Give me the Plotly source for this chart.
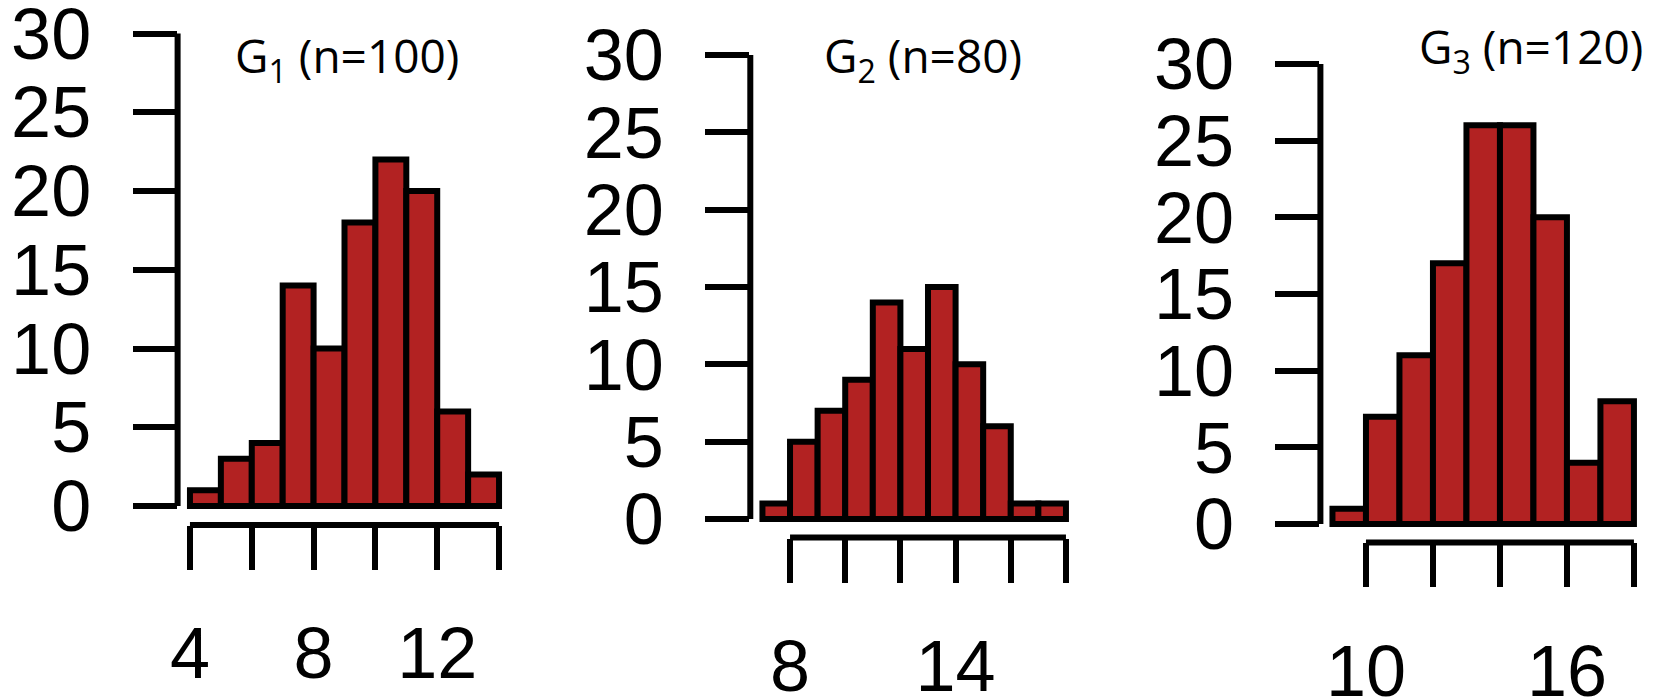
import plotly.graph_objects as go

W, H = 1669, 700

# ---- data ----
g1_left_edges = [4, 5, 6, 7, 8, 9, 10, 11, 12, 13]
g1_counts = [1, 3, 4, 14, 10, 18, 22, 20, 6, 2]

g2_left_edges = [7, 8, 9, 10, 11, 12, 13, 14, 15, 16, 17]
g2_counts = [1, 5, 7, 9, 14, 11, 15, 10, 6, 1, 1]

g3_left_edges = [9, 10, 11, 12, 13, 14, 15, 16, 17]
g3_counts = [1, 7, 11, 17, 26, 26, 20, 4, 8]

titles = ["G<sub>1</sub> (n=100)", "G<sub>2</sub> (n=80)", "G<sub>3</sub> (n=120)"]

x_tickvals = [[4, 6, 8, 10, 12, 14], [8, 10, 12, 14, 16, 18], [10, 12, 14, 16, 18]]
x_ticktext = [["4", "", "8", "", "12", ""],
              ["8", "", "", "14", "", ""],
              ["10", "", "", "16", ""]]
y_tickvals = [0, 5, 10, 15, 20, 25, 30]

panels = [
    dict(edges=g1_left_edges, counts=g1_counts, xr=[3.6, 14.4],
         px=(177.6, 511.4), py=(14.6, 524.9), title_x=347, title_y=58),
    dict(edges=g2_left_edges, counts=g2_counts, xr=[6.56, 18.44],
         px=(750.3, 1078.1), py=(36.4, 537.6), title_x=923, title_y=58),
    dict(edges=g3_left_edges, counts=g3_counts, xr=[8.64, 18.36],
         px=(1320.4, 1646.0), py=(45.6, 542.4), title_x=1531, title_y=49),
]

BAR = "#B22222"
LW = 6
TICKFONT = dict(family="Liberation Sans, Arial, Helvetica, sans-serif", size=72, color="black")

fig = go.Figure()
layout = dict(width=W, height=H, margin=dict(l=0, r=0, t=0, b=0, autoexpand=False),
              paper_bgcolor="white", plot_bgcolor="white", showlegend=False,
              shapes=[], annotations=[])

for i, p in enumerate(panels):
    k = "" if i == 0 else str(i + 1)
    xa, ya = "x" + k, "y" + k
    centers = [e + 0.5 for e in p["edges"]]
    fig.add_trace(go.Bar(x=centers, y=p["counts"], width=1, xaxis=xa, yaxis=ya,
                         marker=dict(color=BAR, line=dict(color="black", width=LW)),
                         hoverinfo="skip"))
    layout["xaxis" + k] = dict(
        domain=[p["px"][0] / W, p["px"][1] / W], range=p["xr"], anchor=ya,
        showgrid=False, zeroline=False, showline=False, automargin=False,
        tickmode="array", tickvals=x_tickvals[i], ticktext=x_ticktext[i],
        ticks="outside", ticklen=44, tickwidth=LW, tickcolor="black",
        tickfont=TICKFONT, ticklabelstandoff=22, ticklabeloverflow="allow",
        fixedrange=True)
    layout["yaxis" + k] = dict(
        domain=[1 - p["py"][1] / H, 1 - p["py"][0] / H], range=[-1.2, 31.2], anchor=xa,
        showgrid=False, zeroline=False, showline=False, automargin=False,
        tickmode="array", tickvals=y_tickvals, ticktext=[str(v) for v in y_tickvals],
        ticks="outside", ticklen=44, tickwidth=LW, tickcolor="black",
        tickfont=TICKFONT, ticklabelstandoff=27, ticklabeloverflow="allow",
        fixedrange=True)
    # axis lines spanning only the tick range (R style)
    layout["shapes"].append(dict(type="line", xref=xa + " domain", yref=ya,
                                 x0=0, x1=0, y0=0, y1=30,
                                 line=dict(color="black", width=LW)))
    layout["shapes"].append(dict(type="line", xref=xa, yref=ya + " domain",
                                 x0=x_tickvals[i][0], x1=x_tickvals[i][-1], y0=0, y1=0,
                                 line=dict(color="black", width=LW)))
    layout["annotations"].append(dict(
        text=titles[i], xref="paper", yref="paper",
        x=p["title_x"] / W, y=1 - p["title_y"] / H, xanchor="center", yanchor="middle",
        showarrow=False, font=dict(family="Open Sans, sans-serif", size=46, color="black")))

fig.update_layout(**layout)
fig.write_html("out.html", config={"displayModeBar": False},
               post_script="document.body.style.margin='0';document.body.style.overflow='hidden';")
